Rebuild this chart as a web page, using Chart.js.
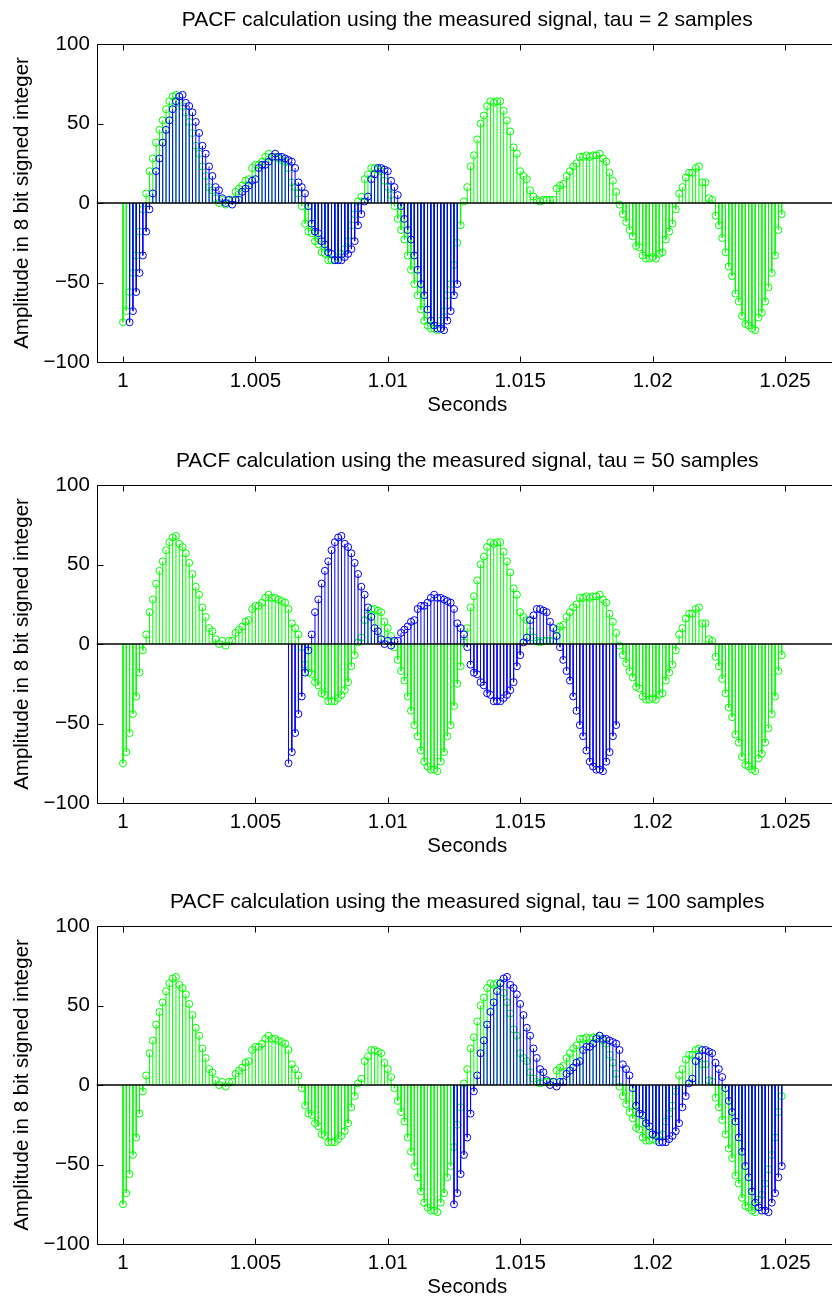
<!DOCTYPE html>
<html>
<head>
<meta charset="utf-8">
<script src="https://cdn.jsdelivr.net/npm/chart.js@4.4.1/dist/chart.umd.min.js"></script>
<style>
  html, body { margin: 0; padding: 0; background: #fff; overflow: hidden; width: 832px; height: 1301px; }
  .plot { position: absolute; left: 0; width: 850px; height: 441px; }
</style>
</head>
<body>
<div class="plot" style="top:0px"><canvas id="chart1" width="850" height="441"></canvas></div>
<div class="plot" style="top:441px"><canvas id="chart2" width="850" height="441"></canvas></div>
<div class="plot" style="top:882px"><canvas id="chart3" width="850" height="441"></canvas></div>
<script>
// measured signal, 8 kHz samples starting at t = 1 s
const sampleRate = 8000;
const startTime = 1;
const measured = [
  -75, -68, -56, -44, -33, -18, -4, 6, 20, 28,
  38, 46, 52, 59, 64, 67, 68, 63, 61, 57,
  51, 44, 36, 31, 23, 17, 10, 8, 3, 0,
  2, -1, 2, 2, 7, 9, 11, 14, 15, 22,
  24, 24, 26, 29, 31, 29, 29, 28, 27, 26,
  22, 13, 10, 6, -2, -13, -18, -19, -24, -26,
  -31, -32, -36, -36, -36, -34, -32, -29, -24, -14,
  -7, 1, 4, 15, 18, 22, 22, 21, 20, 14,
  10, 5, -2, -10, -17, -23, -33, -42, -51, -58,
  -67, -74, -77, -79, -79, -80, -74, -68, -58, -51,
  -39, -25, -14, 1, 10, 23, 30, 40, 50, 55,
  61, 64, 63, 64, 64, 58, 52, 45, 35, 31,
  20, 17, 15, 8, 4, 2, 1, 2, 2, 2,
  2, 9, 11, 12, 17, 20, 23, 25, 29, 29,
  30, 29, 30, 30, 31, 28, 26, 19, 14, 7,
  -1, -7, -12, -17, -21, -27, -28, -33, -35, -35,
  -34, -35, -32, -31, -23, -18, -13, -4, 6, 10,
  16, 19, 19, 22, 23, 13, 13, 3, 2, -8,
  -14, -22, -31, -40, -46, -57, -62, -71, -76, -77,
  -79, -80, -72, -69, -62, -53, -44, -33, -17, -7
];
// the delayed copy is the first 100 samples of the signal
const delayedLength = 100;
const taus = [2, 50, 100];

const xTickValues = [1, 1.005, 1.01, 1.015, 1.02, 1.025];
const yTickValues = [-100, -50, 0, 50, 100];
const xMin = 0.999;
const xMax = 1.027;

const fontFamily = "'Liberation Sans', Arial, Helvetica, sans-serif";
const green = "#00ff00";
const blue = "#0000ff";
const tickLen = 6;

const timeOf = (i) => startTime + i / sampleRate;

const greenPoints = measured.map((v, i) => ({ x: timeOf(i), y: v }));

// stems: 0 -> value, then a gap so each stem is its own segment
const stemsOf = (points) => {
  const out = [];
  points.forEach((p) => {
    out.push({ x: p.x, y: 0 }, { x: p.x, y: p.y }, { x: p.x, y: null });
  });
  return out;
};

const fmtX = (v) => parseFloat(Number(v).toFixed(4)).toString();
const fmtY = (v) => (v < 0 ? "\u2212" + Math.abs(v) : String(v));

const setTicks = (values) => (scale) => {
  scale.ticks = values.map((v) => ({ value: v }));
};

// matlab style box with inward ticks on all four sides
const boxTicks = {
  id: "boxTicks",
  afterDraw(chart) {
    const { ctx, chartArea: a, scales } = chart;
    const x = scales.x;
    const y = scales.y;
    const L = Math.round(a.left) + 0.5;
    const R = Math.round(a.right) + 0.5;
    const T = Math.round(a.top) + 0.5;
    const B = Math.round(a.bottom) + 0.5;
    ctx.save();
    ctx.strokeStyle = "#000";
    ctx.lineWidth = 1;
    ctx.beginPath();
    ctx.rect(L, T, R - L, B - T);
    xTickValues.forEach((v) => {
      const px = Math.round(x.getPixelForValue(v)) + 0.5;
      ctx.moveTo(px, B);
      ctx.lineTo(px, B - tickLen);
      ctx.moveTo(px, T);
      ctx.lineTo(px, T + tickLen);
    });
    yTickValues.forEach((v) => {
      const py = Math.round(y.getPixelForValue(v)) + 0.5;
      ctx.moveTo(L, py);
      ctx.lineTo(L + tickLen, py);
      ctx.moveTo(R, py);
      ctx.lineTo(R - tickLen, py);
    });
    ctx.stroke();
    ctx.restore();
  },
};

const noGrid = {
  display: true,
  drawOnChartArea: false,
  drawTicks: false,
  color: "rgba(0,0,0,0)",
};

const makeChart = (canvasId, tau) => {
  const bluePoints = measured
    .slice(0, delayedLength)
    .map((v, k) => ({ x: timeOf(tau + k), y: v }));

  return new Chart(document.getElementById(canvasId).getContext("2d"), {
    type: "scatter",
    data: {
      datasets: [
        {
          type: "line",
          data: [{ x: xMin, y: 0 }, { x: xMax, y: 0 }],
          borderColor: "#000",
          borderWidth: 1.5,
          pointRadius: 0,
          order: 0,
        },
        {
          type: "scatter",
          data: bluePoints,
          borderColor: blue,
          backgroundColor: "rgba(0,0,0,0)",
          pointRadius: 3.5,
          borderWidth: 1,
          order: 1,
        },
        {
          type: "line",
          data: stemsOf(bluePoints),
          borderColor: blue,
          borderWidth: 1,
          pointRadius: 0,
          spanGaps: false,
          order: 2,
        },
        {
          type: "scatter",
          data: greenPoints,
          borderColor: green,
          backgroundColor: "rgba(0,0,0,0)",
          pointRadius: 3.5,
          borderWidth: 1,
          order: 3,
        },
        {
          type: "line",
          data: stemsOf(greenPoints),
          borderColor: green,
          borderWidth: 1,
          pointRadius: 0,
          spanGaps: false,
          order: 4,
        },
      ],
    },
    options: {
      responsive: false,
      animation: false,
      devicePixelRatio: 1,
      events: [],
      layout: { padding: { left: 0, right: 12, top: 0, bottom: 0 } },
      plugins: {
        legend: { display: false },
        tooltip: { enabled: false },
        title: {
          display: true,
          fullSize: false,
          text: `PACF calculation using the measured signal, tau = ${tau} samples`,
          color: "#000",
          font: { family: fontFamily, size: 21, weight: "normal" },
          padding: { top: 7.8, bottom: 11 },
        },
      },
      scales: {
        x: {
          type: "linear",
          position: "bottom",
          min: xMin,
          max: xMax,
          offset: false,
          afterBuildTicks: setTicks(xTickValues),
          afterFit: (s) => { s.height = 79; },
          grid: noGrid,
          border: { display: false },
          ticks: {
            color: "#000",
            padding: 7.4,
            autoSkip: false,
            maxRotation: 0,
            font: { family: fontFamily, size: 20.5 },
            callback: fmtX,
          },
          title: {
            display: true,
            text: "Seconds",
            color: "#000",
            font: { family: fontFamily, size: 20.5 },
            padding: { top: 0, bottom: 23.2 },
          },
        },
        y: {
          type: "linear",
          position: "left",
          min: -100,
          max: 100,
          afterBuildTicks: setTicks(yTickValues),
          afterFit: (s) => { s.width = 96.5; },
          grid: noGrid,
          border: { display: false },
          ticks: {
            color: "#000",
            padding: 6.7,
            font: { family: fontFamily, size: 20.5 },
            callback: fmtY,
          },
          title: {
            display: true,
            text: "Amplitude in 8 bit signed integer",
            color: "#000",
            font: { family: fontFamily, size: 20.5 },
            padding: { top: 9.7, bottom: 0 },
          },
        },
      },
    },
    plugins: [boxTicks],
  });
};

makeChart("chart1", taus[0]);
makeChart("chart2", taus[1]);
makeChart("chart3", taus[2]);
</script>
</body>
</html>
